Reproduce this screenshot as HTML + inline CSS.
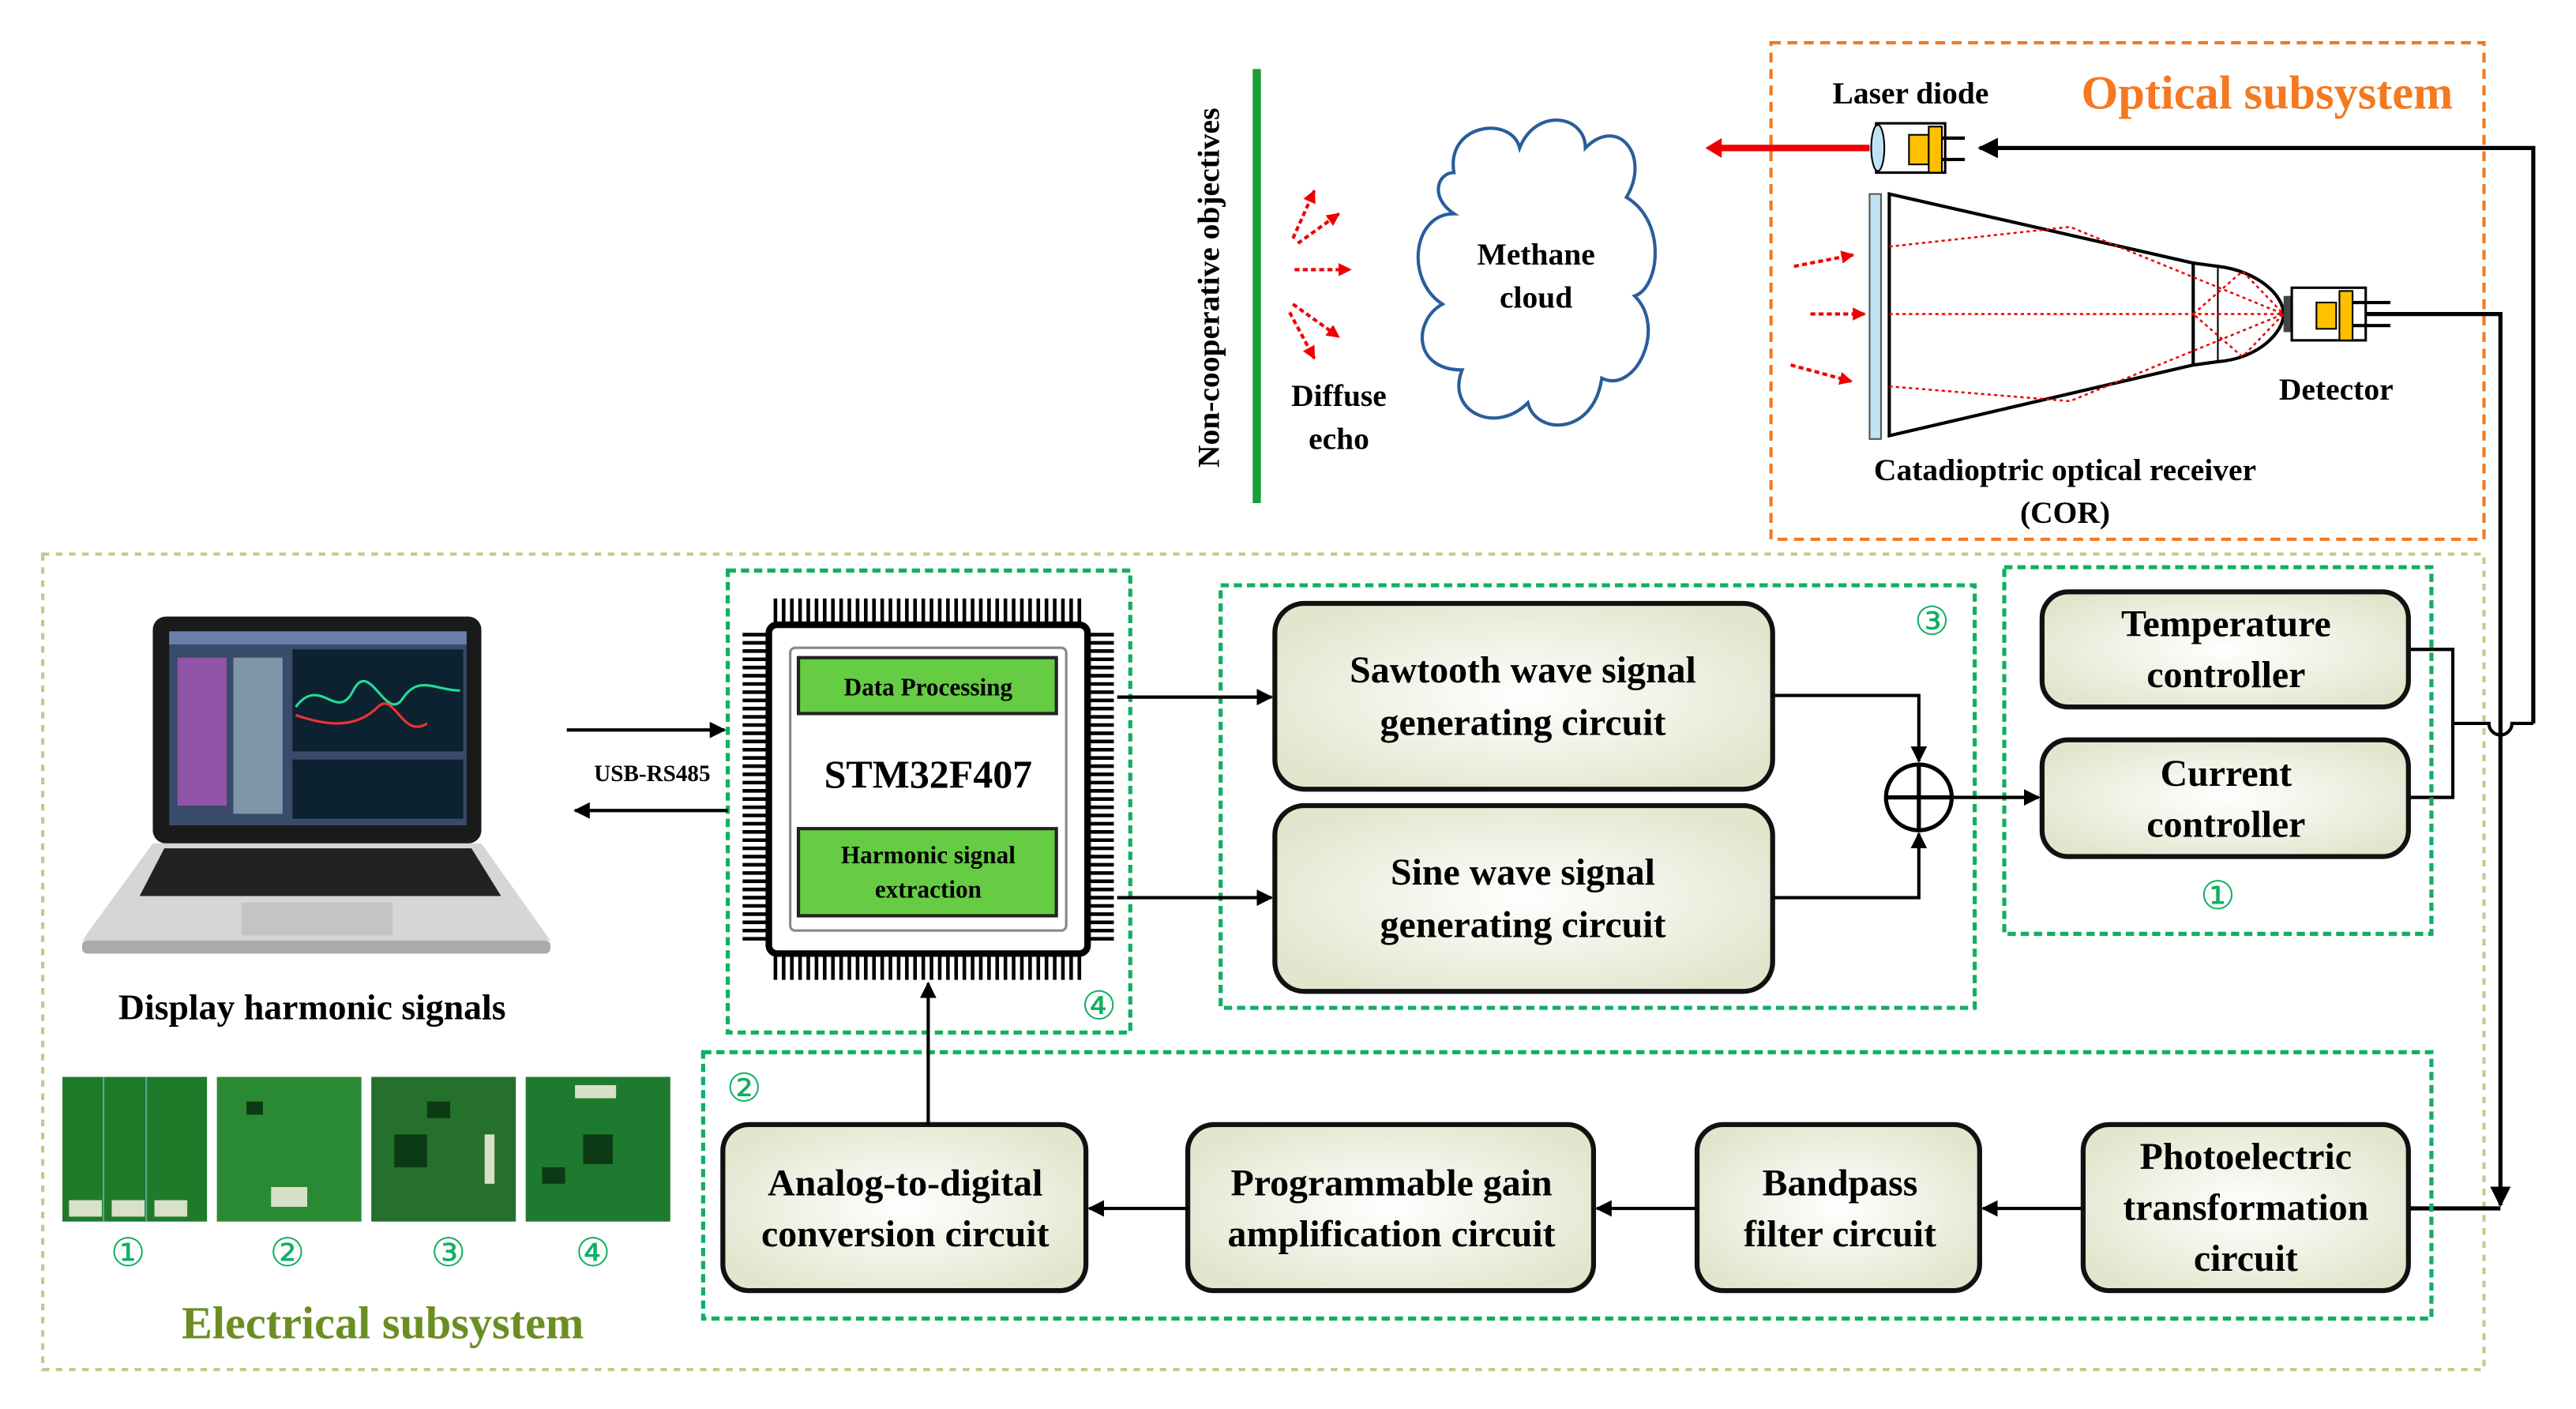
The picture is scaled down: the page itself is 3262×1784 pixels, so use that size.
<!DOCTYPE html>
<html><head><meta charset="utf-8"><style>html,body{margin:0;padding:0;background:#fff}svg{display:block}</style></head>
<body>
<svg width="3262" height="1784" viewBox="0 0 1568 857" preserveAspectRatio="none" xmlns="http://www.w3.org/2000/svg" font-family="Liberation Serif, serif" font-weight="bold">
<defs>
<radialGradient id="bx" cx="50%" cy="50%" r="60%"><stop offset="0" stop-color="#ffffff"/><stop offset="1" stop-color="#dfe6cc"/></radialGradient>
<marker id="ar" viewBox="0 0 10 10" refX="9" refY="5" markerWidth="5" markerHeight="5" orient="auto-start-reverse"><path d="M0,0L10,5L0,10z" fill="#000"/></marker>
<marker id="rr" viewBox="0 0 10 10" refX="9" refY="5" markerWidth="4" markerHeight="4" orient="auto"><path d="M0,0L10,5L0,10z" fill="#e00"/></marker>
</defs>
<rect x="1078" y="26" width="434" height="302" fill="none" stroke="#f47920" stroke-width="2" stroke-dasharray="6,4"/>
<rect x="26" y="337" width="1486" height="496" fill="none" stroke="#b8d08a" stroke-width="2" stroke-dasharray="4,4"/>
<text x="1380" y="66" font-size="29" fill="#f47920" text-anchor="middle">Optical subsystem</text>
<text x="233" y="814" font-size="28" fill="#6b8e23" text-anchor="middle">Electrical subsystem</text>
<line x1="765" y1="42" x2="765" y2="306" stroke="#1a9e3a" stroke-width="5"/>
<text transform="translate(742,175) rotate(-90)" font-size="19" text-anchor="middle">Non-cooperative objectives</text>
<g stroke="#e00" stroke-width="2" stroke-dasharray="3,2" fill="none" marker-end="url(#rr)">
<line x1="787" y1="145" x2="800" y2="116"/><line x1="790" y1="148" x2="815" y2="130"/>
<line x1="788" y1="164" x2="822" y2="164"/>
<line x1="787" y1="185" x2="815" y2="205"/><line x1="785" y1="190" x2="800" y2="218"/>
</g>
<text x="815" y="247" font-size="19" text-anchor="middle">Diffuse</text>
<text x="815" y="273" font-size="19" text-anchor="middle">echo</text>
<path d="M885,105 C880,75 920,70 925,90 C935,65 965,70 965,90 C985,70 1005,95 990,120 C1015,135 1010,175 995,180 C1015,200 995,240 975,230 C970,265 935,265 930,245 C910,265 880,250 890,225 C860,225 860,195 878,185 C855,170 860,130 885,130 C870,120 875,105 885,105 Z" fill="#fff" stroke="#2a5d9b" stroke-width="2"/>
<text x="935" y="161" font-size="19" text-anchor="middle">Methane</text>
<text x="935" y="187" font-size="19" text-anchor="middle">cloud</text>
<line x1="1138" y1="90" x2="1045" y2="90" stroke="#e00" stroke-width="4"/>
<path d="M1048,84 L1038,90 L1048,96z" fill="#e00"/>
<rect x="1142" y="75" width="42" height="30" fill="#fff" stroke="#000" stroke-width="1.5"/>
<ellipse cx="1143" cy="90" rx="4" ry="14" fill="#bfe3f5" stroke="#000"/>
<rect x="1162" y="82" width="12" height="18" fill="#ffc000" stroke="#000"/>
<rect x="1174" y="77" width="8" height="28" fill="#ffc000" stroke="#000"/>
<line x1="1182" y1="84" x2="1196" y2="84" stroke="#000" stroke-width="2"/><line x1="1182" y1="97" x2="1196" y2="97" stroke="#000" stroke-width="2"/>
<text x="1163" y="63" font-size="19" text-anchor="middle">Laser diode</text>
<polyline points="1542,440 1542,90 1205,90" fill="none" stroke="#000" stroke-width="2.5" marker-end="url(#ar)"/>
<path d="M1138,118 L1145,118 L1145,267 L1138,267 Z" fill="#bfe3f5" stroke="#555"/>
<polygon points="1150,118 1335,160 1335,222 1150,265" fill="#fff" stroke="#000" stroke-width="2"/>
<path d="M1335,160 L1350,162 C1375,165 1390,180 1390,191 C1390,202 1375,218 1350,220 L1335,222" fill="none" stroke="#000" stroke-width="2"/>
<line x1="1350" y1="162" x2="1350" y2="220" stroke="#000"/>
<g stroke="#e00" stroke-width="1.2" stroke-dasharray="2,2" fill="none">
<polyline points="1150,150 1260,138 1390,191"/><polyline points="1150,235 1260,244 1390,191"/>
<line x1="1150" y1="191" x2="1390" y2="191"/>
<polyline points="1335,191 1365,165 1390,191 1365,217 1335,191"/>
</g>
<g stroke="#e00" stroke-width="2" stroke-dasharray="3,2" marker-end="url(#rr)">
<line x1="1092" y1="162" x2="1128" y2="155"/><line x1="1102" y1="191" x2="1135" y2="191"/><line x1="1090" y1="222" x2="1127" y2="232"/>
</g>
<rect x="1390" y="180" width="5" height="22" fill="#444"/>
<rect x="1395" y="175" width="45" height="32" fill="#fff" stroke="#000" stroke-width="1.5"/>
<rect x="1410" y="184" width="12" height="16" fill="#ffc000" stroke="#000"/>
<rect x="1424" y="177" width="8" height="30" fill="#ffc000" stroke="#000"/>
<line x1="1432" y1="184" x2="1455" y2="184" stroke="#000" stroke-width="2"/><line x1="1432" y1="198" x2="1455" y2="198" stroke="#000" stroke-width="2"/>
<text x="1422" y="243" font-size="19" text-anchor="middle">Detector</text>
<text x="1257" y="292" font-size="19" text-anchor="middle">Catadioptric optical receiver</text>
<text x="1257" y="318" font-size="19" text-anchor="middle">(COR)</text>
<polyline points="1440,191 1522,191 1522,733" fill="none" stroke="#000" stroke-width="2.5" marker-end="url(#ar)"/>
<line x1="1522" y1="735" x2="1466" y2="735" stroke="#000" stroke-width="2.5"/>
<polyline points="1466,395 1493,395 1493,485 1466,485" fill="none" stroke="#000" stroke-width="2"/>
<path d="M1493,440 L1515,440 A7,7 0 0 0 1529,440 L1542,440" fill="none" stroke="#000" stroke-width="2"/>
<g fill="none" stroke="#10b060" stroke-width="2.5" stroke-dasharray="5,3">
<rect x="443" y="347" width="245" height="281"/>
<rect x="743" y="356" width="459" height="257"/>
<rect x="1220" y="345" width="260" height="223"/>
<rect x="428" y="640" width="1052" height="162"/>
</g>
<g font-family="DejaVu Sans, sans-serif" font-weight="normal" fill="#10b060" font-size="24" text-anchor="middle">
<text x="669" y="620">④</text><text x="1176" y="386">③</text><text x="1350" y="553">①</text><text x="453" y="670">②</text>
<text x="78" y="770">①</text><text x="175" y="770">②</text><text x="273" y="770">③</text><text x="361" y="770">④</text>
</g>
<g stroke="#000" stroke-width="2.2">
<path d="M472,364 V382 M477,364 V382 M482,364 V382 M487,364 V382 M492,364 V382 M497,364 V382 M502,364 V382 M507,364 V382 M512,364 V382 M517,364 V382 M522,364 V382 M527,364 V382 M532,364 V382 M537,364 V382 M542,364 V382 M547,364 V382 M552,364 V382 M557,364 V382 M562,364 V382 M567,364 V382 M572,364 V382 M577,364 V382 M582,364 V382 M587,364 V382 M592,364 V382 M597,364 V382 M602,364 V382 M607,364 V382 M612,364 V382 M617,364 V382 M622,364 V382 M627,364 V382 M632,364 V382 M637,364 V382 M642,364 V382 M647,364 V382 M652,364 V382 M657,364 V382"/>
<path d="M472,578 V596 M477,578 V596 M482,578 V596 M487,578 V596 M492,578 V596 M497,578 V596 M502,578 V596 M507,578 V596 M512,578 V596 M517,578 V596 M522,578 V596 M527,578 V596 M532,578 V596 M537,578 V596 M542,578 V596 M547,578 V596 M552,578 V596 M557,578 V596 M562,578 V596 M567,578 V596 M572,578 V596 M577,578 V596 M582,578 V596 M587,578 V596 M592,578 V596 M597,578 V596 M602,578 V596 M607,578 V596 M612,578 V596 M617,578 V596 M622,578 V596 M627,578 V596 M632,578 V596 M637,578 V596 M642,578 V596 M647,578 V596 M652,578 V596 M657,578 V596"/>
<path d="M452,386 H470 M452,391 H470 M452,396 H470 M452,401 H470 M452,406 H470 M452,411 H470 M452,416 H470 M452,421 H470 M452,426 H470 M452,431 H470 M452,436 H470 M452,441 H470 M452,446 H470 M452,451 H470 M452,456 H470 M452,461 H470 M452,466 H470 M452,471 H470 M452,476 H470 M452,481 H470 M452,486 H470 M452,491 H470 M452,496 H470 M452,501 H470 M452,506 H470 M452,511 H470 M452,516 H470 M452,521 H470 M452,526 H470 M452,531 H470 M452,536 H470 M452,541 H470 M452,546 H470 M452,551 H470 M452,556 H470 M452,561 H470 M452,566 H470 M452,571 H470"/>
<path d="M660,386 H678 M660,391 H678 M660,396 H678 M660,401 H678 M660,406 H678 M660,411 H678 M660,416 H678 M660,421 H678 M660,426 H678 M660,431 H678 M660,436 H678 M660,441 H678 M660,446 H678 M660,451 H678 M660,456 H678 M660,461 H678 M660,466 H678 M660,471 H678 M660,476 H678 M660,481 H678 M660,486 H678 M660,491 H678 M660,496 H678 M660,501 H678 M660,506 H678 M660,511 H678 M660,516 H678 M660,521 H678 M660,526 H678 M660,531 H678 M660,536 H678 M660,541 H678 M660,546 H678 M660,551 H678 M660,556 H678 M660,561 H678 M660,566 H678 M660,571 H678"/>
</g>
<rect x="468" y="380" width="194" height="200" rx="5" fill="#fff" stroke="#000" stroke-width="4"/>
<rect x="481" y="394" width="168" height="172" rx="3" fill="#fff" stroke="#888" stroke-width="1.5"/>
<rect x="486" y="400" width="157" height="34" fill="#66cc44" stroke="#222" stroke-width="2"/>
<rect x="486" y="504" width="157" height="53" fill="#66cc44" stroke="#222" stroke-width="2"/>
<text x="565" y="423" font-size="15" text-anchor="middle">Data Processing</text>
<text x="565" y="479" font-size="24" text-anchor="middle">STM32F407</text>
<text x="565" y="525" font-size="15" text-anchor="middle">Harmonic signal</text>
<text x="565" y="546" font-size="15" text-anchor="middle">extraction</text>
<rect x="93" y="375" width="200" height="138" rx="8" fill="#1a1a1a"/>
<rect x="103" y="384" width="181" height="118" fill="#3a4a6a"/>
<rect x="103" y="384" width="181" height="8" fill="#6a7fa8"/>
<rect x="178" y="395" width="104" height="62" fill="#0c2230"/>
<path d="M180,430 C195,410 205,440 215,420 C225,400 235,440 245,425 C255,410 265,420 280,420" stroke="#2d9" stroke-width="1.5" fill="none"/>
<path d="M180,435 C195,440 215,445 230,430 C240,420 245,450 260,440" stroke="#e33" stroke-width="1.5" fill="none"/>
<rect x="178" y="462" width="104" height="36" fill="#0c2230"/>
<rect x="108" y="400" width="30" height="90" fill="#b55ac0" opacity=".7"/>
<rect x="142" y="400" width="30" height="95" fill="#7f96a8"/>
<path d="M93,513 L293,513 L335,572 L50,572 Z" fill="#d4d6d8"/>
<path d="M100,516 L287,516 L305,545 L85,545 Z" fill="#222"/>
<rect x="147" y="549" width="92" height="20" fill="#c2c4c6"/>
<rect x="50" y="572" width="285" height="8" rx="3" fill="#a8aaac"/>
<text x="190" y="620" font-size="22" text-anchor="middle">Display harmonic signals</text>
<line x1="345" y1="444" x2="441" y2="444" stroke="#000" stroke-width="2" marker-end="url(#ar)"/>
<line x1="443" y1="493" x2="350" y2="493" stroke="#000" stroke-width="2" marker-end="url(#ar)"/>
<text x="397" y="475" font-size="14" text-anchor="middle">USB-RS485</text>
<g>
<rect x="38" y="655" width="88" height="88" fill="#1f7a2a"/><rect x="132" y="655" width="88" height="88" fill="#2a8a34"/>
<rect x="226" y="655" width="88" height="88" fill="#25702c"/><rect x="320" y="655" width="88" height="88" fill="#1e7a2e"/>
<g fill="#d8e0c8"><rect x="42" y="730" width="20" height="10"/><rect x="68" y="730" width="20" height="10"/><rect x="94" y="730" width="20" height="10"/><rect x="165" y="722" width="22" height="12"/><rect x="295" y="690" width="6" height="30"/><rect x="350" y="660" width="25" height="8"/></g>
<g fill="#0c3a14"><rect x="240" y="690" width="20" height="20"/><rect x="260" y="670" width="14" height="10"/><rect x="355" y="690" width="18" height="18"/><rect x="150" y="670" width="10" height="8"/><rect x="330" y="710" width="14" height="10"/></g>
<line x1="63" y1="655" x2="63" y2="743" stroke="#5a9" stroke-width="1"/><line x1="89" y1="655" x2="89" y2="743" stroke="#5a9" stroke-width="1"/>
</g>
<g fill="url(#bx)" stroke="#111" stroke-width="3">
<rect x="776" y="367" width="303" height="113" rx="18"/>
<rect x="776" y="490" width="303" height="113" rx="18"/>
<rect x="1243" y="360" width="223" height="70" rx="16"/>
<rect x="1243" y="450" width="223" height="71" rx="16"/>
<rect x="440" y="684" width="221" height="101" rx="16"/>
<rect x="723" y="684" width="247" height="101" rx="16"/>
<rect x="1033" y="684" width="172" height="101" rx="16"/>
<rect x="1268" y="684" width="198" height="101" rx="16"/>
</g>
<g font-size="23" text-anchor="middle">
<text x="927" y="415">Sawtooth wave signal</text><text x="927" y="447">generating circuit</text>
<text x="927" y="538">Sine wave signal</text><text x="927" y="570">generating circuit</text>
<text x="1355" y="387">Temperature</text><text x="1355" y="418">controller</text>
<text x="1355" y="478">Current</text><text x="1355" y="509">controller</text>
<text x="551" y="727">Analog-to-digital</text><text x="551" y="758">conversion circuit</text>
<text x="847" y="727">Programmable gain</text><text x="847" y="758">amplification circuit</text>
<text x="1120" y="727">Bandpass</text><text x="1120" y="758">filter circuit</text>
<text x="1367" y="711">Photoelectric</text><text x="1367" y="742">transformation</text><text x="1367" y="773">circuit</text>
</g>
<g stroke="#000" stroke-width="2" fill="none">
<line x1="680" y1="424" x2="774" y2="424" marker-end="url(#ar)"/>
<line x1="680" y1="546" x2="774" y2="546" marker-end="url(#ar)"/>
<polyline points="1079,423 1168,423 1168,463" marker-end="url(#ar)"/>
<polyline points="1079,546 1168,546 1168,507" marker-end="url(#ar)"/>
<line x1="1188" y1="485" x2="1241" y2="485" marker-end="url(#ar)"/>
<line x1="1268" y1="735" x2="1207" y2="735" marker-end="url(#ar)"/>
<line x1="1033" y1="735" x2="972" y2="735" marker-end="url(#ar)"/>
<line x1="723" y1="735" x2="663" y2="735" marker-end="url(#ar)"/>
<line x1="565" y1="684" x2="565" y2="598" marker-end="url(#ar)"/>
</g>
<circle cx="1168" cy="485" r="20" fill="#fff" stroke="#000" stroke-width="2.5"/>
<path d="M1148,485 H1188 M1168,465 V505" stroke="#000" stroke-width="2.5"/>
</svg>
</body></html>
